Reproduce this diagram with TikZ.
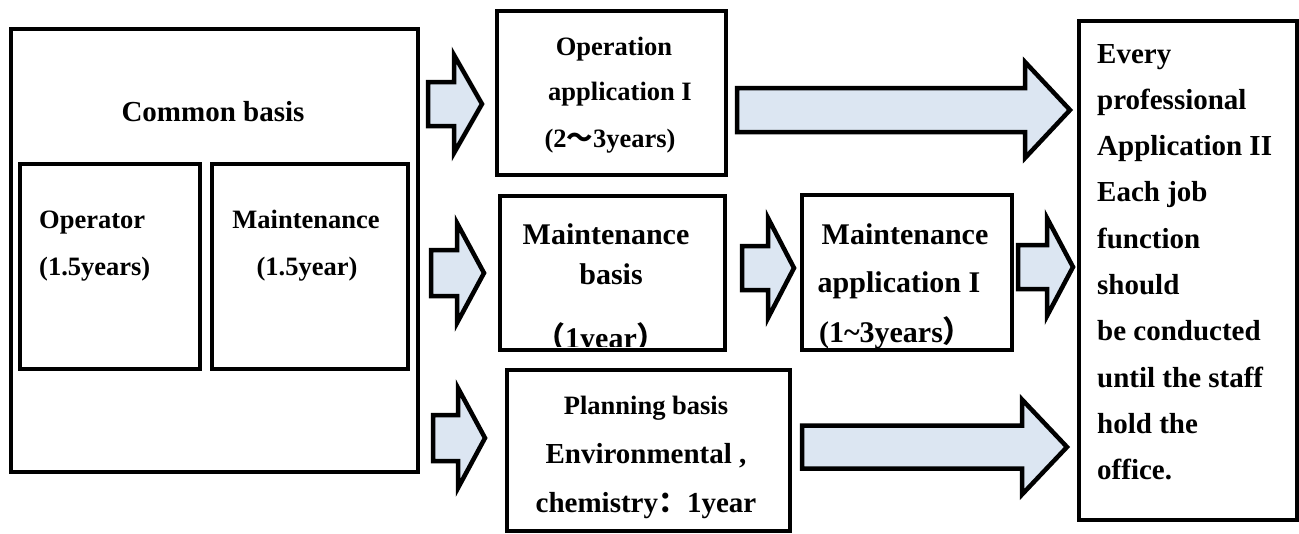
\documentclass[tikz,border=0pt]{standalone}
\usepackage{fontspec}
\setmainfont{Liberation Serif}
\newfontfamily\cjk{Noto Sans CJK SC}
\definecolor{arrowfill}{HTML}{DCE6F2}
\tikzset{
  box/.style={draw=black, line width=4pt, inner sep=0pt, anchor=north west},
  lbl/.style={font=\bfseries\fontsize{26.5}{30}\selectfont, inner sep=0pt, anchor=base},
  lblw/.style={lbl, anchor=base west},
  midlbl/.style={lbl, font=\bfseries\fontsize{30}{34}\selectfont},
  biglbl/.style={lbl, font=\bfseries\fontsize{29}{34}\selectfont},
  sidelbl/.style={lblw, font=\bfseries\fontsize{29}{34}\selectfont},
  blockarrow/.style={draw=black, fill=arrowfill, line width=4.5pt, line join=miter},
}
% block arrow: tail x, neck x, tip x, axis y, shaft half-height, head half-height
\newcommand\blockarrow[6]{%
  \draw[blockarrow] (#1,{#4-#5}) -- (#2,{#4-#5}) -- (#2,{#4-#6}) -- (#3,#4)
    -- (#2,{#4+#6}) -- (#2,{#4+#5}) -- (#1,{#4+#5}) -- cycle;}
\begin{document}
\begin{tikzpicture}[x=1pt,y=-1pt]
\useasboundingbox (0,0) rectangle (1299,533);

% boxes
\node[box, minimum width=407pt, minimum height=443pt] (common) at (9,27) {};
\node[box, minimum width=180pt, minimum height=205pt] (oper) at (18,162) {};
\node[box, minimum width=196pt, minimum height=205pt] (maint) at (210,162) {};
\node[box, minimum width=229pt, minimum height=164pt] (opapp) at (495,9) {};
\node[box, minimum width=225pt, minimum height=154pt] (mbasis) at (498,194) {};
\node[box, minimum width=210pt, minimum height=155pt] (mapp) at (800,193) {};
\node[box, minimum width=283pt, minimum height=161pt] (plan) at (505,368) {};
\node[box, minimum width=218pt, minimum height=499pt] (final) at (1077,19) {};

% block arrows
\blockarrow{428}{454}{482}{104}{22}{49}
\blockarrow{431}{457}{484}{273}{23}{50}
\blockarrow{433}{458}{485}{438}{23}{50}
\blockarrow{737}{1025}{1070}{110}{22}{48}
\blockarrow{742}{768}{794}{268}{22}{50}
\blockarrow{1018}{1047}{1073}{267}{22}{49}
\blockarrow{802}{1022}{1067}{447}{21.5}{47.5}

% common basis
\node[biglbl] (tcommon) at (213,121) {Common basis};
\node[lblw] (toper1) at (39,228) {Operator};
\node[lblw] (toper2) at (39,275) {(1.5years)};
\node[lbl] (tmaint1) at (306,228) {Maintenance};
\node[lbl] (tmaint2) at (307,275) {(1.5year)};

% operation application
\node[lbl] (topapp1) at (614,55) {Operation};
\node[lbl] (topapp2) at (620,100) {application I};
\node[lbl] (topapp3) at (610,147) {(2{\cjk ～}3years)};

% maintenance basis
\node[midlbl] (tmb1) at (606,244) {Maintenance};
\node[midlbl] (tmb2) at (611,284) {basis};
\begin{scope}
  \clip (500,196) rectangle (721,346);
  \node[midlbl] (tmb3) at (601,348) {{\cjk （}1year{\cjk ）}};
\end{scope}

% maintenance application
\node[midlbl] (tma1) at (905,244) {Maintenance};
\node[midlbl] (tma2) at (899,292) {application I};
\node[midlbl] (tma3) at (896,342) {(1\textasciitilde 3years{\cjk ）}};

% planning basis
\node[lbl] (tpl1) at (646,414) {Planning basis};
\node[sidelbl, anchor=base] (tpl2) at (646,463) {Environmental ,};
\node[sidelbl, anchor=base] (tpl3) at (646,512) {chemistry{\cjk ：}1year};

% final stage
\foreach \t [count=\i] in {Every, professional, Application II, Each job,
    function, should, be conducted, until the staff, hold the, office.}
  \node[sidelbl] (tfin\i) at (1097,{63+46.3*(\i-1)}) {\t};
\end{tikzpicture}
\end{document}
